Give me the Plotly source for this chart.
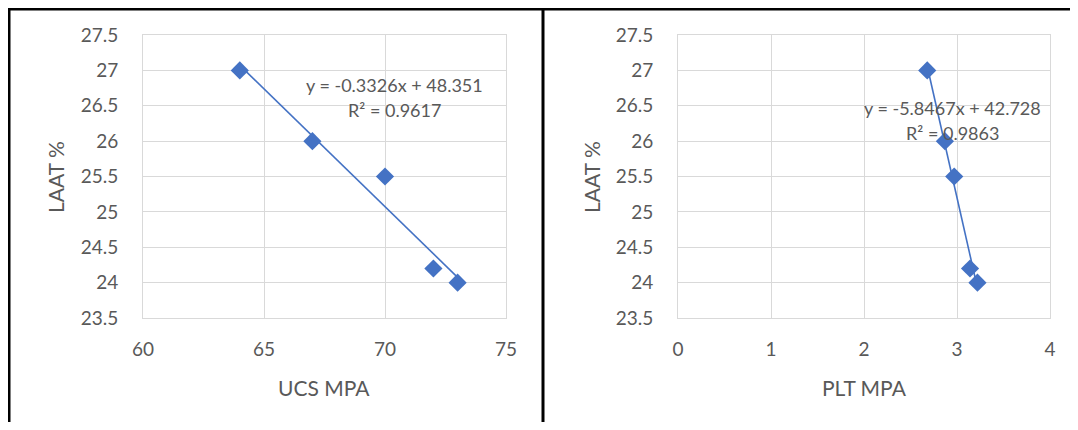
import numpy as np
import plotly.graph_objects as go

# ---- data ----
ucs_mpa = [64, 67, 70, 72, 73]
plt_mpa = [2.68, 2.87, 2.97, 3.14, 3.22]
laat_pct = [27, 26, 25.5, 24.2, 24]

y_ticks = [23.5, 24, 24.5, 25, 25.5, 26, 26.5, 27, 27.5]
y_ticktext = ["23.5", "24", "24.5", "25", "25.5", "26", "26.5", "27", "27.5"]
ucs_ticks = [60, 65, 70, 75]
plt_ticks = [0, 1, 2, 3, 4]

eq_ucs = ["y = -0.3326x + 48.351", "R² = 0.9617"]
eq_plt = ["y = -5.8467x + 42.728", "R² = 0.9863"]

# page is 1078x430; the browser body has an 8px margin, so the figure is
# sized to fit inside it and positions are given in page pixels.
PAGE_MARGIN = 8
W, H = 1078 - 2 * PAGE_MARGIN, 430 - 2 * PAGE_MARGIN
BLUE = "#4472C4"
GRID = "#d9d9d9"
TXT = "#595959"
FONT = "Lato, 'Open Sans', sans-serif"

def px(x):
    return min(max((x - PAGE_MARGIN) / W, 0), 1)

def py(y):
    return min(max(1 - (y - PAGE_MARGIN) / H, 0), 1)

fig = go.Figure()

def add_panel(xs, ys, xaxis, yaxis):
    m, b = np.polyfit(xs, ys, 1)
    xl = [min(xs), max(xs)]
    fig.add_trace(go.Scatter(x=xl, y=[m * v + b for v in xl], mode="lines",
                             xaxis=xaxis, yaxis=yaxis,
                             line=dict(color=BLUE, width=1.6),
                             showlegend=False, hoverinfo="skip"))
    fig.add_trace(go.Scatter(x=xs, y=ys, mode="markers", xaxis=xaxis, yaxis=yaxis,
                             marker=dict(symbol="diamond", size=14, color=BLUE),
                             showlegend=False, hoverinfo="skip"))

add_panel(ucs_mpa, laat_pct, "x", "y")
add_panel(plt_mpa, laat_pct, "x2", "y2")

ydom = [py(318), py(35)]
common_x = dict(showgrid=True, gridcolor=GRID, gridwidth=1, zeroline=False,
                showline=True, mirror=True, linecolor=GRID, linewidth=1,
                ticks="", tickfont=dict(family=FONT, size=19, color=TXT),
                ticklabelstandoff=14, automargin=False)
common_y = dict(showgrid=True, gridcolor=GRID, gridwidth=1, zeroline=False,
                showline=True, mirror=True, linecolor=GRID, linewidth=1,
                ticks="", tickfont=dict(family=FONT, size=19, color=TXT),
                range=[23.5, 27.5], tickvals=y_ticks, ticktext=y_ticktext,
                ticklabelstandoff=20, domain=ydom, automargin=False)

fig.update_layout(
    template="none",
    width=W, height=H, autosize=False,
    margin=dict(l=0, r=0, t=0, b=0, pad=0),
    paper_bgcolor="white", plot_bgcolor="white",
    showlegend=False,
    xaxis=dict(domain=[px(143), px(506)], range=[60, 75], tickvals=ucs_ticks,
               anchor="y", **common_x),
    yaxis=dict(anchor="x", **common_y),
    xaxis2=dict(domain=[px(678), px(1050)], range=[0, 4], tickvals=plt_ticks,
                anchor="y2", **common_x),
    yaxis2=dict(anchor="x2", **common_y),
)

ann = []
def text(x, y, t, size, angle=0):
    ann.append(dict(x=px(x), y=py(y), xref="paper", yref="paper", text=t,
                    showarrow=False, xanchor="center", yanchor="middle",
                    textangle=angle, font=dict(family=FONT, size=size, color=TXT)))

text(55, 177, "LAAT %", 21, -90)
text(591, 177, "LAAT %", 21, -90)
text(324, 387, "UCS MPA", 21)
text(864, 387, "PLT MPA", 21)
text(394, 85, eq_ucs[0], 18)
text(394, 110, eq_ucs[1], 18)
text(952, 108, eq_plt[0], 18)
text(952, 133, eq_plt[1], 18)
fig.update_layout(annotations=ann)

# panel borders (drawn at the figure edge where the page margin cuts them)
shapes = []
def seg(x0, y0, x1, y1):
    shapes.append(dict(type="line", xref="paper", yref="paper",
                       x0=px(x0), y0=py(y0), x1=px(x1), y1=py(y1),
                       line=dict(color="black", width=3)))
seg(8, 9, 543, 9)
seg(9, 8, 9, 430)
seg(543, 9, 1078, 9)
seg(543, 8, 543, 430)
fig.update_layout(shapes=shapes)

fig.write_html("out.html", config={"displayModeBar": False})
